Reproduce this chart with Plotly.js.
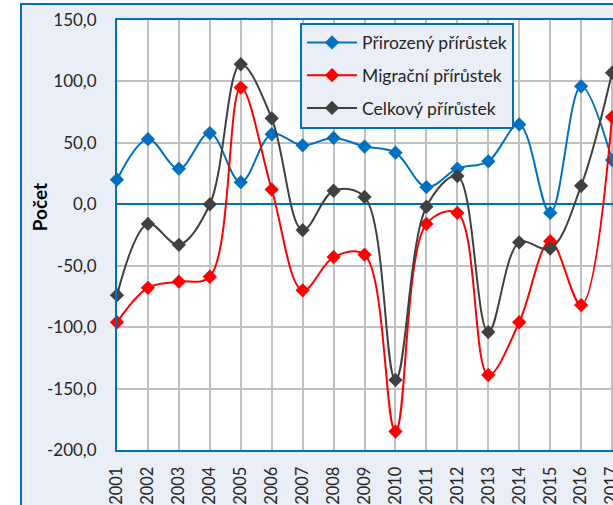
<!DOCTYPE html>
<html>
<head>
<meta charset="utf-8">
<script src="https://cdn.plot.ly/plotly-3.0.1.min.js"></script>
<style>
  html, body { margin: 0; padding: 0; background: #ffffff; overflow: hidden; width: 613px; height: 505px; }
  #chart { position: absolute; left: 20px; top: 3px; border: 2px solid #0070C0; }
</style>
</head>
<body>
<div id="chart"></div>
<script>
// Roky a hodnoty přírůstků
const roky = [2001, 2002, 2003, 2004, 2005, 2006, 2007, 2008, 2009, 2010, 2011, 2012, 2013, 2014, 2015, 2016, 2017];
const prirozeny = [20, 53, 29, 58, 18, 57, 48, 54, 47, 42, 14, 29, 35, 65, -7, 96, 36];
const migracni = [-96, -68, -63, -59, 95, 12, -70, -43, -41, -185, -16, -7, -139, -96, -30, -82, 71];
const celkovy = [-74, -16, -33, 0, 114, 70, -21, 11, 6, -143, -2, 23, -104, -31, -36, 15, 107];

// popisky osy y (Excel píše obyčejný spojovník)
const osaYHodnoty = [-200, -150, -100, -50, 0, 50, 100, 150];
const osaYPopisky = ['-200,0', '-150,0', '-100,0', '-50,0', '0,0', '50,0', '100,0', '150,0'];

const nazvy = ['Přirozený přírůstek', 'Migrační přírůstek', 'Celkový přírůstek'];
const barvy = ['#0070C0', '#FF0000', '#404040'];
const rady = [prirozeny, migracni, celkovy];

const font = 'Lato, "Open Sans", sans-serif';

const traces = rady.map((y, i) => ({
    x: roky,
    y: y,
    name: nazvy[i],
    legendgroup: 'g' + i,
    type: 'scatter',
    mode: 'lines+markers',
    line: { color: barvy[i], width: 2, shape: 'spline', smoothing: 1 },
    marker: { color: barvy[i], symbol: 'diamond', size: 11 },
    cliponaxis: false
}));

const layout = {
    width: 641,
    height: 520,
    margin: { l: 95, r: 20, t: 15, b: 75 },
    paper_bgcolor: '#EAEFF7',
    plot_bgcolor: '#ffffff',
    separators: ', ',
    showlegend: true,
    font: { family: font, size: 17, color: '#404040' },
    xaxis: {
        range: [2001, 2018],
        tickmode: 'array',
        tickvals: roky,
        ticktext: roky.map(String),
        tickangle: -90,
        showgrid: true,
        gridcolor: '#C0C0C0',
        gridwidth: 2,
        showline: true,
        linecolor: '#0070C0',
        linewidth: 2,
        mirror: true,
        zeroline: false,
        ticks: 'outside',
        ticklen: 8,
        tickcolor: 'rgba(0,0,0,0)',
        tickfont: { family: font, size: 16.5, color: '#262626' }
    },
    yaxis: {
        range: [-200, 150],
        tickmode: 'array',
        tickvals: osaYHodnoty,
        ticktext: osaYPopisky,
        showgrid: true,
        gridcolor: '#C0C0C0',
        gridwidth: 2,
        showline: true,
        linecolor: '#0070C0',
        linewidth: 2,
        mirror: true,
        zeroline: true,
        zerolinecolor: '#0070C0',
        zerolinewidth: 2,
        ticks: 'outside',
        ticklen: 15,
        tickcolor: 'rgba(0,0,0,0)',
        tickfont: { family: font, size: 17, color: '#262626' }
    },
    legend: {
        x: 0.348,
        y: 0.994,
        xanchor: 'left',
        yanchor: 'top',
        bgcolor: '#EAEFF7',
        bordercolor: '#0070C0',
        borderwidth: 2,
        itemwidth: 50,
        tracegroupgap: 7,
        font: { family: font, size: 17.5, color: '#262626' }
    },
    annotations: [{
        text: '<b>Počet</b>',
        xref: 'paper',
        yref: 'paper',
        x: -0.148,
        y: 0.565,
        xanchor: 'center',
        yanchor: 'middle',
        textangle: -90,
        showarrow: false,
        font: { family: font, size: 19, color: '#000000' }
    }]
};

Plotly.newPlot('chart', traces, layout, { displayModeBar: false, staticPlot: true });
</script>
</body>
</html>
